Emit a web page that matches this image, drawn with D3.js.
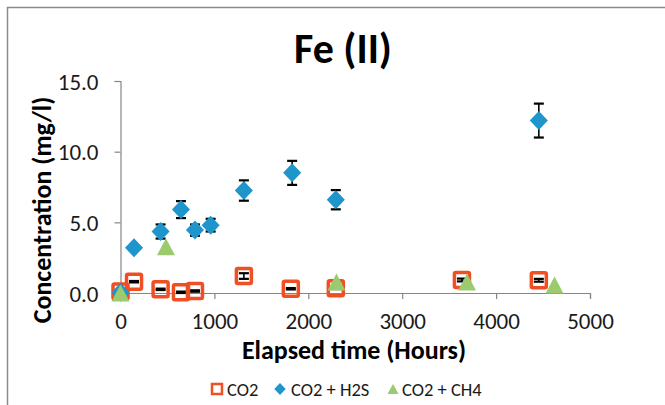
<!DOCTYPE html>
<html><head><meta charset="utf-8">
<script src="https://cdn.jsdelivr.net/npm/d3@7"></script>
<style>
html,body{margin:0;padding:0;background:#fff;}
svg{display:block;font-family:Carlito,Calibri,Lato,sans-serif;}
</style></head>
<body>
<script>
// ---- data ----
const xTicks = [0, 1000, 2000, 3000, 4000, 5000];
const yTicks = [0, 5, 10, 15];
const seriesNames = ["CO2", "CO2 + H2S", "CO2 + CH4"];

const co2Hours = [0, 144, 427, 644, 793, 1314, 1814, 2293, 3636, 4455];
const co2Conc  = [0.1, 0.8, 0.26, 0.05, 0.14, 1.2, 0.3, 0.33, 0.92, 0.9];
const co2Err   = [0.05, 0.05, 0.05, 0.05, 0.05, 0.2, 0.05, 0.05, 0.1, 0.1];

const h2sHours = [0, 144, 427, 644, 793, 960, 1314, 1828, 2293, 4455];
const h2sConc  = [0.05, 3.2, 4.35, 5.9, 4.45, 4.8, 7.25, 8.5, 6.6, 12.2];
const h2sErr   = [0, 0, 0.5, 0.6, 0.4, 0.45, 0.72, 0.85, 0.68, 1.2];

const ch4Hours = [0, 484, 2300, 3690, 4622];
const ch4Conc  = [0, 3.27, 0.78, 0.77, 0.57];

const colors = {co2: "#EF4F23", h2s: "#1E95CB", ch4: "#9BCB6E"};

// ---- layout ----
const W = 665, H = 405;
const svg = d3.select("body").append("svg").attr("width", W).attr("height", H);

svg.append("rect").attr("x", 7.5).attr("y", 7.5).attr("width", 700).attr("height", 500)
  .attr("fill", "none").attr("stroke", "#8a8a8a").attr("stroke-width", 1.5);

const x = d3.scaleLinear().domain([0, 5000]).range([120.5, 590]);
const y = d3.scaleLinear().domain([0, 15]).range([293, 81]);

const axisColor = "#868686";

// axes
const gx = svg.append("g").attr("transform", `translate(0,${y(0)})`)
  .call(d3.axisBottom(x).tickValues(xTicks).tickFormat(d3.format("d")).tickSize(6).tickPadding(14));
const gy = svg.append("g").attr("transform", `translate(${x(0)},0)`)
  .call(d3.axisLeft(y).tickValues(yTicks).tickFormat(d3.format(".1f")).tickSize(6).tickPadding(16));
[gx, gy].forEach(g => {
  g.select(".domain").attr("stroke", axisColor).attr("stroke-width", 1.2);
  g.selectAll(".tick line").attr("stroke", axisColor).attr("stroke-width", 1.2);
  g.selectAll(".tick text").attr("fill", "#1a1a1a").style("font-size", "23px")
    .style("font-family", "Carlito,Calibri,Lato,sans-serif");
});
gy.selectAll(".tick text").attr("dy", "0.35em");

// title
svg.append("text").attr("x", 343).attr("y", 63).attr("text-anchor", "middle")
  .style("font-size", "42px").style("font-weight", "bold").attr("fill", "#000").text("Fe (II)");
// axis titles
svg.append("text").attr("x", 354).attr("y", 359).attr("text-anchor", "middle")
  .style("font-size", "26px").style("font-weight", "bold").attr("fill", "#000").text("Elapsed time (Hours)");
svg.append("text").attr("transform", "translate(51,210) rotate(-90)").attr("text-anchor", "middle")
  .style("font-size", "26px").style("font-weight", "bold").attr("fill", "#000").text("Concentration (mg/l)");

// helpers
function errBars(g, xs, ys, es) {
  const d = xs.map((v, i) => ({x: v, y: ys[i], e: es[i]})).filter(p => p.e > 0);
  const gg = g.append("g").attr("stroke", "#000").attr("stroke-width", 1.6);
  gg.selectAll("line.v").data(d).join("line")
    .attr("x1", p => x(p.x)).attr("x2", p => x(p.x))
    .attr("y1", p => y(p.y + p.e)).attr("y2", p => y(p.y - p.e));
  gg.selectAll("line.t").data(d).join("line")
    .attr("x1", p => x(p.x) - 5).attr("x2", p => x(p.x) + 5)
    .attr("y1", p => y(p.y + p.e)).attr("y2", p => y(p.y + p.e)).attr("stroke-width", 2.2);
  gg.selectAll("line.b").data(d).join("line")
    .attr("x1", p => x(p.x) - 5).attr("x2", p => x(p.x) + 5)
    .attr("y1", p => y(p.y - p.e)).attr("y2", p => y(p.y - p.e)).attr("stroke-width", 2.2);
}
const diamondPath = (r) => `M0,${-r}L${r*0.95},0L0,${r}L${-r*0.95},0Z`;
const triPath = (w, h) => `M0,${-h/2}L${w/2},${h/2}L${-w/2},${h/2}Z`;

const plot = svg.append("g");

// CO2 series (hollow squares)
const gCo2 = plot.append("g");
errBars(gCo2, co2Hours, co2Conc, co2Err);
gCo2.selectAll("rect").data(co2Hours.map((v, i) => [v, co2Conc[i]])).join("rect")
  .attr("x", d => x(d[0]) - 7.5).attr("y", d => y(d[1]) - 7.5)
  .attr("width", 15).attr("height", 15).attr("rx", 1.5)
  .attr("fill", "none").attr("stroke", colors.co2).attr("stroke-width", 3.5);

// CO2 + H2S series (diamonds)
const gH2s = plot.append("g");
errBars(gH2s, h2sHours, h2sConc, h2sErr);
gH2s.selectAll("path").data(h2sHours.map((v, i) => [v, h2sConc[i]])).join("path")
  .attr("transform", d => `translate(${x(d[0])},${y(d[1])})`)
  .attr("d", diamondPath(9.5)).attr("fill", colors.h2s);

// CO2 + CH4 series (triangles)
const gCh4 = plot.append("g");
gCh4.selectAll("path").data(ch4Hours.map((v, i) => [v, ch4Conc[i]])).join("path")
  .attr("transform", d => `translate(${x(d[0])},${y(d[1])})`)
  .attr("d", triPath(18, 17)).attr("fill", colors.ch4);

// legend
const leg = svg.append("g").style("font-size", "18.5px").attr("fill", "#1a1a1a");
const legItems = [
  {name: seriesNames[0], mx: 217, tx: 227, kind: "sq"},
  {name: seriesNames[1], mx: 280, tx: 291, kind: "di"},
  {name: seriesNames[2], mx: 393, tx: 402, kind: "tr"}
];
const legY = 389;
legItems.forEach(it => {
  if (it.kind === "sq") {
    leg.append("rect").attr("x", it.mx - 5).attr("y", legY - 5).attr("width", 10).attr("height", 10)
      .attr("fill", "none").attr("stroke", colors.co2).attr("stroke-width", 2.5);
  } else if (it.kind === "di") {
    leg.append("path").attr("transform", `translate(${it.mx},${legY})`).attr("d", diamondPath(6)).attr("fill", colors.h2s);
  } else {
    leg.append("path").attr("transform", `translate(${it.mx},${legY})`).attr("d", triPath(11, 10)).attr("fill", colors.ch4);
  }
  leg.append("text").attr("x", it.tx).attr("y", legY + 6.5).text(it.name);
});
</script>
</body></html>
